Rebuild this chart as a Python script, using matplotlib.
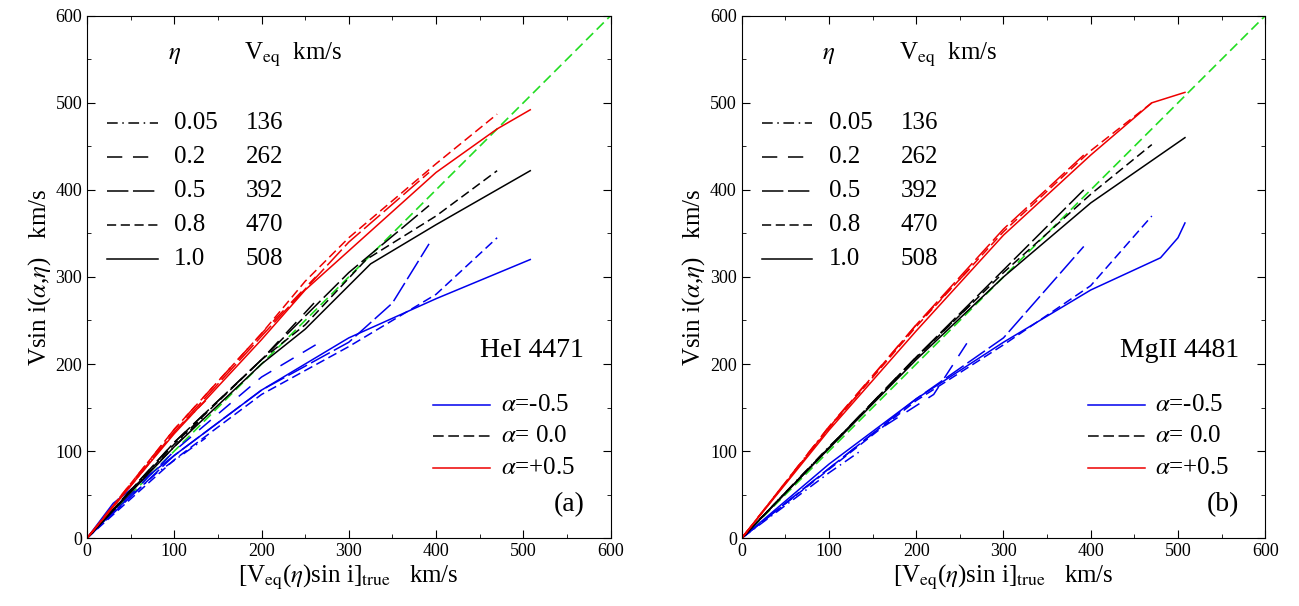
import matplotlib.pyplot as plt
import numpy as np

plt.rcParams['font.family'] = ['Liberation Serif', 'DejaVu Serif']
plt.rcParams['mathtext.fontset'] = 'stix'

etas = ['0.05', '0.2', '0.5', '0.8', '1.0']
veqs = ['136', '262', '392', '470', '508']
alphas = ['-0.5', ' 0.0', '+0.5']
alpha_colors = ['#0000ee', 'black', '#ee0000']
eta_styles = [(0, (7, 3, 1, 3)), (0, (10, 7)), (0, (14, 3)), (0, (6, 3)), '-']

# panel (a) HeI 4471: curves[alpha][eta] = (x, y)
curves_a = [
    [([0, 30, 80, 136], [0, 30, 75, 115]),
     ([0, 50, 100, 200, 262], [0, 50, 100, 185, 222]),
     ([0, 100, 200, 300, 350, 392], [0, 95, 170, 225, 270, 338]),
     ([0, 100, 200, 300, 400, 470], [0, 90, 165, 220, 280, 345]),
     ([0, 30, 100, 200, 300, 400, 508], [0, 40, 95, 170, 230, 275, 320])],
    [([0, 60, 100, 136], [0, 65, 105, 142]),
     ([0, 100, 200, 262], [0, 110, 205, 272]),
     ([0, 100, 200, 300, 392], [0, 110, 205, 305, 382]),
     ([0, 100, 200, 250, 320, 400, 470], [0, 108, 205, 245, 320, 370, 422]),
     ([0, 100, 200, 250, 325, 400, 508], [0, 105, 200, 240, 315, 360, 422])],
    [([0, 60, 100, 136], [0, 72, 122, 158]),
     ([0, 100, 200, 262], [0, 125, 235, 300]),
     ([0, 100, 200, 300, 392], [0, 122, 232, 340, 420]),
     ([0, 100, 200, 250, 300, 400, 470], [0, 125, 235, 295, 345, 430, 487]),
     ([0, 100, 200, 250, 300, 400, 470, 508], [0, 120, 228, 285, 330, 420, 470, 492])],
]

# panel (b) MgII 4481
curves_b = [
    [([0, 100, 136], [0, 75, 100]),
     ([0, 150, 220, 262], [0, 120, 165, 230]),
     ([0, 200, 300, 392], [0, 160, 230, 335]),
     ([0, 200, 300, 400, 470], [0, 158, 222, 290, 370]),
     ([0, 100, 200, 300, 400, 480, 500, 508], [0, 85, 160, 225, 285, 322, 345, 362])],
    [([0, 100, 136], [0, 105, 140]),
     ([0, 100, 200, 262], [0, 104, 208, 268]),
     ([0, 100, 200, 300, 392], [0, 104, 208, 308, 400]),
     ([0, 100, 200, 300, 400, 470], [0, 104, 207, 305, 395, 452]),
     ([0, 100, 200, 300, 400, 508], [0, 103, 205, 300, 385, 460])],
    [([0, 100, 136], [0, 128, 168]),
     ([0, 100, 200, 262], [0, 128, 245, 310]),
     ([0, 100, 200, 300, 392], [0, 127, 245, 355, 440]),
     ([0, 100, 200, 300, 400, 470], [0, 126, 243, 352, 445, 500]),
     ([0, 100, 200, 300, 400, 470, 508], [0, 124, 238, 348, 440, 500, 512])],
]

fig = plt.figure(figsize=(12.99, 6.06), dpi=100)
ax_a = fig.add_axes([0.067, 0.112, 0.403, 0.862])
ax_b = fig.add_axes([0.571, 0.112, 0.403, 0.862])

for ax, curves, line_name, tag in [(ax_a, curves_a, 'HeI 4471', '(a)'),
                                   (ax_b, curves_b, 'MgII 4481', '(b)')]:
    ax.plot([0, 600], [0, 600], color='#22dd22', ls=(0, (6, 3)), lw=1.2)
    for i, col in enumerate(alpha_colors):
        for j, st in enumerate(eta_styles):
            x, y = curves[i][j]
            ax.plot(x, y, color=col, ls=st, lw=1.1)
    ax.set_xlim(0, 600)
    ax.set_ylim(0, 600)
    ax.set_xticks(range(0, 601, 100))
    ax.set_yticks(range(0, 601, 100))
    ax.set_xticks(range(0, 601, 50), minor=True)
    ax.set_yticks(range(0, 601, 50), minor=True)
    ax.tick_params(direction='in', top=True, right=True, which='both', labelsize=13)
    ax.tick_params(which='major', length=6)
    ax.tick_params(which='minor', length=3)
    ax.set_xlabel(r'[V$_{\rm eq}$($\eta$)sin i]$_{\rm true}$   km/s', fontsize=18, labelpad=2)
    ax.set_ylabel(r'Vsin i($\alpha$,$\eta$)   km/s', fontsize=18, labelpad=2)

    # eta legend
    ax.text(100, 555, r'$\eta$', fontsize=18, ha='center', va='center')
    ax.text(180, 555, r'V$_{\rm eq}$  km/s', fontsize=18, ha='left', va='center')
    for j, (e, v) in enumerate(zip(etas, veqs)):
        yy = 477 - j * 39
        ax.plot([23, 81], [yy, yy], color='black', ls=eta_styles[j], lw=1.1)
        ax.text(100, yy, e, fontsize=18, ha='left', va='center')
        ax.text(182, yy, v, fontsize=18, ha='left', va='center')

    # alpha legend
    for i, (a, col) in enumerate(zip(alphas, alpha_colors)):
        yy = 153 - i * 36
        ax.plot([397, 462], [yy, yy], color=col, ls=(0, (7, 3)) if i == 1 else '-', lw=1.1)
        ax.text(474, yy, r'$\alpha$=' + a, fontsize=18, ha='left', va='center')

    ax.text(570, 215, line_name, fontsize=20, ha='right', va='center')
    ax.text(570, 38, tag, fontsize=20, ha='right', va='center')

fig.savefig('out.png', dpi=100)
